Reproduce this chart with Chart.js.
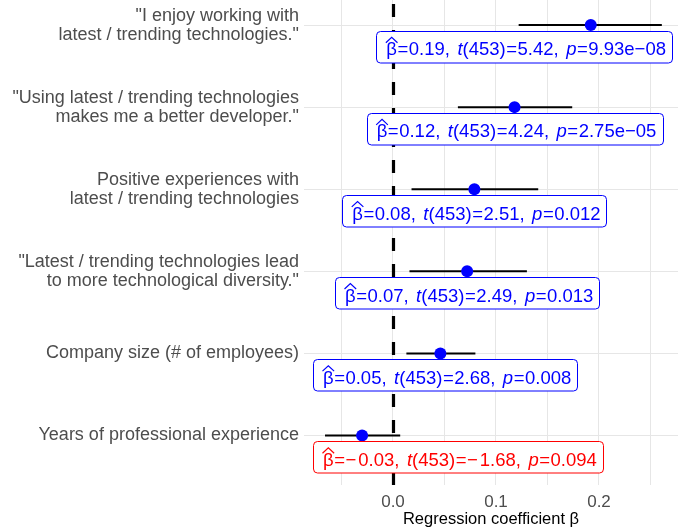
<!DOCTYPE html>
<html><head><meta charset="utf-8">
<script src="https://cdn.jsdelivr.net/npm/chart.js@4"></script>
<style>html,body{margin:0;padding:0;background:#fff}</style>
</head><body>
<canvas id="c" width="686" height="531" style="width:686px;height:531px;display:block"></canvas>
<script>
// ---- data ----
const categories = [
  ['"I enjoy working with', 'latest / trending technologies."'],
  ['"Using latest / trending technologies', 'makes me a better developer."'],
  ['Positive experiences with', 'latest / trending technologies'],
  ['"Latest / trending technologies lead', 'to more technological diversity."'],
  ['Company size (# of employees)'],
  ['Years of professional experience']
];
const estimates = [0.192, 0.118, 0.079, 0.072, 0.046, -0.030];
const ciLow     = [0.122, 0.063, 0.018, 0.016, 0.013, -0.066];
const ciHigh    = [0.261, 0.174, 0.141, 0.130, 0.080, 0.007];
const betaText  = ['0.19', '0.12', '0.08', '0.07', '0.05', '−0.03'];
const tText     = ['5.42', '4.24', '2.51', '2.49', '2.68', '−1.68'];
const pText     = ['9.93e−08', '2.75e−05', '0.012', '0.013', '0.008', '0.094'];
const dfText    = '453';
const significant = [true, true, true, true, true, false];
const xTicks      = [-0.05, 0, 0.05, 0.1, 0.15, 0.2, 0.25];
const xTickLabels = ['', '0.0', '', '0.1', '', '0.2', ''];
const xTitle = 'Regression coefficient β';

// ---- styles ----
const FONT = '"Liberation Sans", Arial, Helvetica, sans-serif';
const LBL_SIZE = 18.5;
const n = categories.length;
const rowOf = i => n - i;

const datasets = [];
estimates.forEach((e, i) => {
  datasets.push({
    type: 'line', order: 2,
    data: [{x: ciLow[i], y: rowOf(i)}, {x: ciHigh[i], y: rowOf(i)}],
    borderColor: '#000', borderWidth: 2, pointRadius: 0, fill: false
  });
});
datasets.push({
  type: 'scatter', order: 1,
  data: estimates.map((e, i) => ({x: e, y: rowOf(i)})),
  backgroundColor: '#0000FF', borderColor: '#0000FF', pointRadius: 6, borderWidth: 0
});

function tokensFor(i) {
  const SP = 7.5, EQ = 0.5;
  const num = s => s.startsWith('−') ? [{t: '−'}, {g: 2}, {t: s.slice(1)}] : [{t: s}];
  return [
    {t: 'β', hat: true}, {g: EQ}, {t: '='}, {g: EQ}, ...num(betaText[i]), {t: ','}, {g: SP},
    {t: 't', it: true}, {t: '(' + dfText + ')'}, {g: EQ}, {t: '='}, {g: EQ}, ...num(tText[i]), {t: ','}, {g: SP},
    {t: 'p', it: true}, {g: EQ}, {t: '='}, {g: EQ}, {t: pText[i]}
  ];
}

const refPlugin = {
  id: 'refLine',
  beforeDatasetsDraw(chart) {
    const {ctx, chartArea: a, scales: {x}} = chart;
    const px = x.getPixelForValue(0) + 0.5;
    ctx.save();
    ctx.strokeStyle = '#000';
    ctx.lineWidth = 3.2;
    ctx.setLineDash([13, 13]);
    ctx.beginPath();
    ctx.moveTo(px, a.bottom);
    ctx.lineTo(px, a.top);
    ctx.stroke();
    ctx.restore();
  }
};

const labelPlugin = {
  id: 'labels',
  afterDatasetsDraw(chart) {
    const {ctx, chartArea: a, scales: {x, y}} = chart;
    ctx.save();
    estimates.forEach((e, i) => {
      const color = significant[i] ? '#0000FF' : '#FF0000';
      const toks = tokensFor(i);
      let w = 0;
      toks.forEach(tk => {
        if (tk.g) { tk.w = tk.g; }
        else {
          ctx.font = (tk.it ? 'italic ' : '') + LBL_SIZE + 'px ' + FONT;
          tk.w = ctx.measureText(tk.t).width;
        }
        w += tk.w;
      });
      const padL = 10, padR = 6, h = 31.5;
      const bw = w + padL + padR;
      const px = x.getPixelForValue(e), py = y.getPixelForValue(rowOf(i));
      let left = px - bw / 2;
      left = Math.min(left, a.right - 6 - bw);
      left = Math.max(left, a.left + 9);
      const top = py + 5.7;
      // box
      ctx.beginPath();
      ctx.roundRect(Math.round(left) + 0.5, Math.round(top) + 0.5, Math.round(bw), h, 4);
      ctx.fillStyle = '#fff';
      ctx.fill();
      ctx.strokeStyle = color;
      ctx.lineWidth = 1;
      ctx.setLineDash([]);
      ctx.stroke();
      // text
      ctx.fillStyle = color;
      ctx.textBaseline = 'alphabetic';
      ctx.textAlign = 'left';
      let cx = left + padL;
      const base = top + 24.6;
      toks.forEach(tk => {
        if (!tk.g) {
          ctx.font = (tk.it ? 'italic ' : '') + LBL_SIZE + 'px ' + FONT;
          ctx.fillText(tk.t, cx, base);
          if (tk.hat) {
            ctx.beginPath();
            ctx.moveTo(cx - 0.5, top + 12);
            ctx.lineTo(cx + tk.w / 2, top + 6.6);
            ctx.lineTo(cx + tk.w + 0.5, top + 12);
            ctx.strokeStyle = color;
            ctx.lineWidth = 1.2;
            ctx.stroke();
          }
        }
        cx += tk.w;
      });
    });
    ctx.restore();
  }
};

new Chart(document.getElementById('c'), {
  data: {datasets},
  options: {
    responsive: false,
    animation: false,
    devicePixelRatio: 1,
    layout: {autoPadding: false, padding: {left: 0, right: 8, top: 0, bottom: 0}},
    plugins: {legend: {display: false}, tooltip: {enabled: false}},
    scales: {
      x: {
        type: 'linear', min: -0.0864, max: 0.2767,
        afterBuildTicks: s => { s.ticks = xTicks.map(v => ({value: v})); },
        afterFit: s => { s.height = 46; s.paddingLeft = 0; s.paddingRight = 0; },
        grid: {color: '#E6E6E6', lineWidth: 1, drawTicks: false},
        border: {display: false},
        ticks: {
          autoSkip: false, maxRotation: 0, padding: 7,
          color: '#4D4D4D', font: {family: FONT, size: 17},
          callback: (v, idx) => xTickLabels[idx]
        },
        title: {display: true, text: xTitle, color: '#000', font: {family: FONT, size: 16.5}, padding: {top: 2, bottom: 2}}
      },
      y: {
        type: 'linear', min: 0.397, max: 6.305,
        afterBuildTicks: s => { s.ticks = categories.map((c, i) => ({value: rowOf(i)})); },
        afterFit: s => { s.width = 304; s.paddingTop = 0; s.paddingBottom = 0; },
        grid: {color: '#E6E6E6', lineWidth: 1, drawTicks: false},
        border: {display: false},
        ticks: {
          autoSkip: false, padding: 5,
          color: '#4D4D4D', font: {family: FONT, size: 18, lineHeight: 1.055},
          callback: v => categories[n - Math.round(v)]
        }
      }
    }
  },
  plugins: [refPlugin, labelPlugin]
});
</script>
</body></html>
